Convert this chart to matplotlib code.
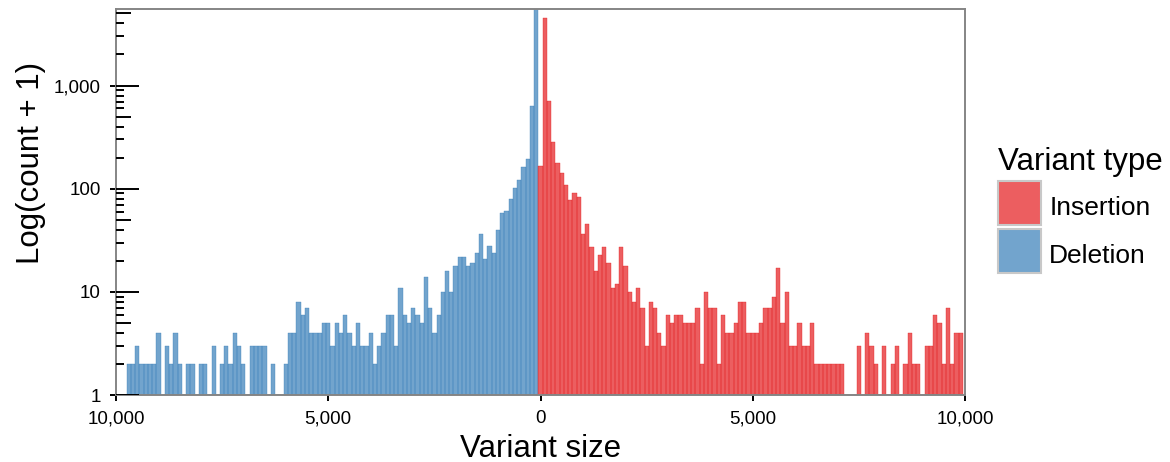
import numpy as np
import matplotlib
matplotlib.use("Agg")
import matplotlib.pyplot as plt
from matplotlib.patches import Patch
from matplotlib.ticker import NullLocator

plt.rcParams['font.family'] = ['Liberation Sans', 'DejaVu Sans']

# histogram bins are 100 bp wide
bin_width = 100

# deletions: bins centred on -9900 ... -100
deletion_centers = np.arange(-9900, 0, bin_width)
deletion_counts = [
    0, 0, 1, 1, 2, 1, 1, 1, 1, 3,
    0, 2, 1, 3, 1, 0, 1, 1, 0, 1,
    1, 0, 2, 0, 1, 2, 1, 3, 2, 1,
    0, 2, 2, 2, 2, 0, 1, 0, 0, 1,
    3, 3, 7, 5, 6, 3, 3, 3, 4, 4,
    2, 4, 3, 5, 3, 2, 4, 2, 2, 3,
    1, 2, 3, 5, 5, 2, 10, 5, 4, 6,
    5, 4, 13, 6, 3, 5, 9, 15, 9, 17,
    21, 21, 17, 18, 23, 35, 20, 27, 23, 39,
    57, 60, 79, 100, 120, 161, 193, 629, 5519,
]

# insertions: bins centred on 0 ... 9900
insertion_centers = np.arange(0, 10000, bin_width)
insertion_counts = [
    166, 4489, 704, 282, 176, 141, 107, 77, 90, 82,
    35, 44, 26, 15, 22, 26, 18, 10, 11, 26,
    17, 9, 7, 10, 6, 2, 7, 6, 3, 2,
    5, 4, 5, 5, 4, 4, 4, 6, 1, 9,
    6, 6, 1, 5, 3, 3, 4, 7, 7, 3,
    3, 3, 4, 6, 6, 8, 16, 4, 9, 2,
    2, 4, 2, 2, 4, 1, 1, 1, 1, 1,
    1, 1, 0, 0, 0, 2, 0, 3, 2, 1,
    0, 2, 0, 1, 2, 0, 1, 3, 1, 1,
    0, 2, 2, 5, 4, 1, 6, 1, 3, 3,
]

x_ticks = [-10000, -5000, 0, 5000, 10000]
x_tick_labels = ['10,000', '5,000', '0', '5,000', '10,000']
y_ticks = [1, 10, 100, 1000]
y_tick_labels = ['1', '10', '100', '1,000']

red = '#E41A1C'
blue = '#377EB8'
red_fill = matplotlib.colors.to_rgba(red, 0.7)
blue_fill = matplotlib.colors.to_rgba(blue, 0.7)

fig = plt.figure(figsize=(11.7, 4.62), dpi=100)
ax = fig.add_axes([0.09915, 0.1450, 0.72564, 0.8355])

# bars start at 1 so the top sits at count + 1 on the log axis
ax.bar(deletion_centers, deletion_counts, width=bin_width, bottom=1,
       facecolor=blue_fill, edgecolor=blue, linewidth=0.25)
ax.bar(insertion_centers, insertion_counts, width=bin_width, bottom=1,
       facecolor=red_fill, edgecolor=red, linewidth=0.25)

ax.set_yscale('log')
ax.set_xlim(-10000, 10000)
ax.set_ylim(1, max(deletion_counts) + 1)
ax.yaxis.set_minor_locator(NullLocator())

ax.set_xticks(x_ticks)
ax.set_xticklabels(x_tick_labels)
ax.set_yticks(y_ticks)
ax.set_yticklabels(y_tick_labels)
ax.tick_params(axis='both', direction='out', length=4.6, width=1.4,
               color='black', labelsize=13.5, pad=6.3, labelcolor='black')

# log ticks inside the left edge (long at decades, medium at 5s, short otherwise)
ytrans = ax.get_yaxis_transform()
ymax = max(deletion_counts) + 1
for decade in [1, 10, 100, 1000]:
    for m in range(1, 10):
        v = m * decade
        if v > ymax:
            continue
        if m == 1:
            ln = 0.0271
        elif m == 5:
            ln = 0.0177
        else:
            ln = 0.0094
        ax.plot([0, ln], [v, v], transform=ytrans, color='black',
                linewidth=1.4, solid_capstyle='butt', zorder=3)

for side in ['left', 'right', 'top', 'bottom']:
    ax.spines[side].set_color('#858585')
    ax.spines[side].set_linewidth(1.4)

ax.set_xlabel('Variant size', fontsize=22.5, labelpad=5.0)
ax.set_ylabel('Log(count + 1)', fontsize=22.5, labelpad=6.0)
ax.yaxis.label.set_y(0.60)

handles = [
    Patch(facecolor=red_fill, edgecolor='#c8c8c8', linewidth=1.5, label='Insertion'),
    Patch(facecolor=blue_fill, edgecolor='#c8c8c8', linewidth=1.5, label='Deletion'),
]
leg = fig.legend(handles=handles, title='Variant type', loc='upper left',
                 bbox_to_anchor=(998 / 1170, 1 - 147 / 462), frameon=False,
                 fontsize=19, title_fontsize=22.5, handlelength=1.64,
                 handleheight=2.19, handletextpad=0.3, labelspacing=0.15,
                 borderpad=0, borderaxespad=0, alignment='left')
# nudge entry labels down so they sit centred on their keys
for t in leg.get_texts():
    t.set_y(-4)

fig.savefig('out.png', dpi=100)
